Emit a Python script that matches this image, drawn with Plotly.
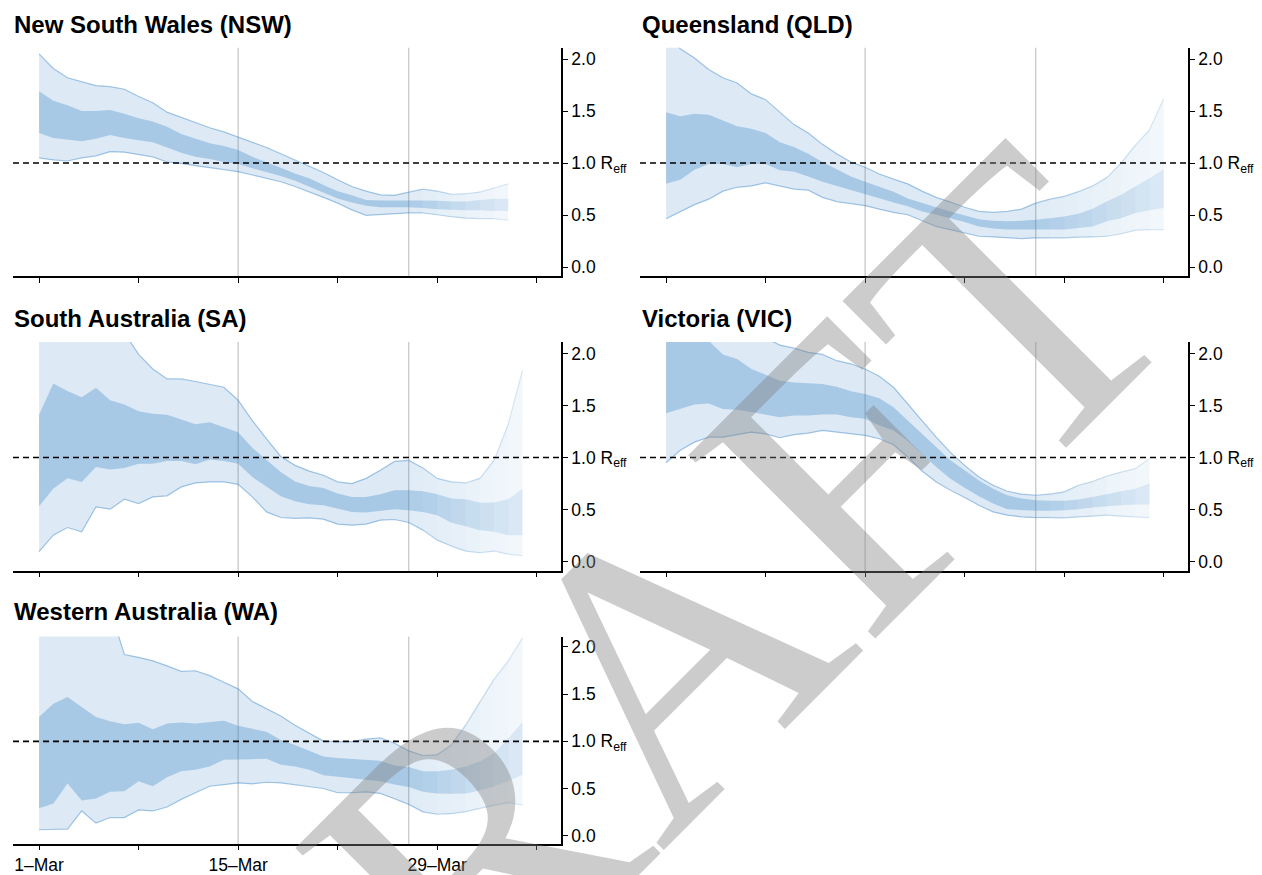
import plotly.graph_objects as go
import pandas as pd

W, H = 1262, 875
START = "2020-03-01"
FADE_FROM = "2020-03-27"

titles = ["New South Wales (NSW)", "Queensland (QLD)", "South Australia (SA)",
          "Victoria (VIC)", "Western Australia (WA)"]

# ---- data (daily, from 1-Mar) : upper 95%, upper 50%, lower 50%, lower 95% ----
nsw_up95 = [2.05, 1.91, 1.82, 1.78, 1.745, 1.735, 1.71, 1.64, 1.58, 1.49, 1.44, 1.39, 1.34, 1.30, 1.25, 1.20, 1.15,
            1.09, 1.03, 0.965, 0.91, 0.84, 0.775, 0.73, 0.695, 0.69, 0.72, 0.75, 0.73, 0.70, 0.705, 0.72, 0.76, 0.80]
nsw_up50 = [1.69, 1.60, 1.555, 1.50, 1.50, 1.51, 1.475, 1.43, 1.40, 1.35, 1.28, 1.235, 1.19, 1.165, 1.125, 1.06, 1.01,
            0.955, 0.90, 0.855, 0.79, 0.73, 0.69, 0.645, 0.64, 0.64, 0.64, 0.64, 0.637, 0.63, 0.63, 0.645, 0.656, 0.656]
nsw_lo50 = [1.29, 1.24, 1.225, 1.21, 1.235, 1.27, 1.24, 1.22, 1.20, 1.15, 1.10, 1.06, 1.04, 1.01, 0.99, 0.95, 0.91,
            0.875, 0.83, 0.775, 0.715, 0.66, 0.62, 0.59, 0.575, 0.575, 0.575, 0.567, 0.557, 0.55, 0.545, 0.545, 0.54, 0.54]
nsw_lo95 = [1.05, 1.03, 1.02, 1.05, 1.07, 1.11, 1.105, 1.08, 1.06, 1.01, 0.997, 0.975, 0.955, 0.94, 0.917, 0.885, 0.855,
            0.82, 0.775, 0.725, 0.67, 0.615, 0.55, 0.497, 0.503, 0.513, 0.52, 0.52, 0.503, 0.484, 0.47, 0.465, 0.465, 0.45]

qld_up95 = [2.25, 2.10, 2.01, 1.90, 1.82, 1.77, 1.665, 1.61, 1.49, 1.37, 1.29, 1.18, 1.09, 1.01, 0.96, 0.895, 0.845, 0.80,
            0.73, 0.67, 0.625, 0.575, 0.535, 0.525, 0.535, 0.557, 0.615, 0.653, 0.68, 0.725, 0.78, 0.86, 1.0, 1.17, 1.32, 1.62]
qld_up50 = [1.49, 1.45, 1.475, 1.465, 1.41, 1.355, 1.33, 1.29, 1.20, 1.155, 1.09, 1.01, 0.94, 0.87, 0.82, 0.775, 0.725, 0.66,
            0.615, 0.575, 0.535, 0.495, 0.46, 0.445, 0.44, 0.445, 0.455, 0.47, 0.487, 0.513, 0.56, 0.63, 0.695, 0.775, 0.855, 0.94]
qld_lo50 = [0.80, 0.84, 0.935, 0.99, 0.99, 0.96, 0.99, 0.99, 0.93, 0.917, 0.87, 0.82, 0.78, 0.74, 0.695, 0.66, 0.62, 0.585,
            0.535, 0.503, 0.47, 0.433, 0.39, 0.37, 0.36, 0.36, 0.36, 0.36, 0.36, 0.375, 0.39, 0.44, 0.47, 0.52, 0.545, 0.567]
qld_lo95 = [0.465, 0.535, 0.60, 0.653, 0.73, 0.767, 0.78, 0.81, 0.78, 0.75, 0.74, 0.67, 0.63, 0.61, 0.59, 0.557, 0.525, 0.503,
            0.446, 0.39, 0.36, 0.33, 0.296, 0.29, 0.28, 0.274, 0.28, 0.28, 0.28, 0.287, 0.29, 0.296, 0.32, 0.353, 0.36, 0.36]

sa_up95 = [2.6, 2.55, 2.5, 2.45, 2.4, 2.3, 2.2, 1.99, 1.85, 1.755, 1.755, 1.73, 1.70, 1.675, 1.55, 1.355, 1.18, 1.01,
           0.925, 0.87, 0.83, 0.766, 0.75, 0.80, 0.877, 0.963, 0.973, 0.90, 0.80, 0.766, 0.756, 0.80, 0.973, 1.32, 1.84]
sa_up50 = [1.41, 1.71, 1.64, 1.58, 1.67, 1.55, 1.51, 1.445, 1.42, 1.41, 1.365, 1.32, 1.34, 1.29, 1.244, 1.094, 0.973, 0.86,
           0.77, 0.727, 0.708, 0.654, 0.622, 0.622, 0.647, 0.686, 0.686, 0.676, 0.647, 0.606, 0.60, 0.565, 0.568, 0.60, 0.70]
sa_lo50 = [0.533, 0.70, 0.80, 0.766, 0.91, 0.884, 0.90, 0.94, 0.94, 0.966, 0.966, 0.935, 0.98, 0.966, 0.94, 0.813, 0.718,
           0.628, 0.58, 0.552, 0.542, 0.51, 0.478, 0.472, 0.485, 0.504, 0.494, 0.478, 0.447, 0.373, 0.341, 0.303, 0.287,
           0.255, 0.255]
sa_lo95 = [0.096, 0.255, 0.328, 0.287, 0.526, 0.504, 0.60, 0.558, 0.622, 0.632, 0.718, 0.756, 0.766, 0.766, 0.743, 0.622,
           0.478, 0.424, 0.415, 0.421, 0.408, 0.36, 0.351, 0.36, 0.399, 0.405, 0.376, 0.303, 0.207, 0.15, 0.102, 0.086,
           0.102, 0.073, 0.057]

vic_up95 = [2.5, 2.45, 2.4, 2.35, 2.3, 2.25, 2.2, 2.15, 2.08, 2.05, 2.01, 1.99, 1.93, 1.90, 1.85, 1.78, 1.675, 1.52, 1.355,
            1.196, 1.05, 0.925, 0.813, 0.734, 0.676, 0.648, 0.638, 0.648, 0.67, 0.734, 0.77, 0.823, 0.86, 0.893, 0.99]
vic_up50 = [2.3, 2.25, 2.2, 2.12, 1.99, 1.946, 1.85, 1.796, 1.738, 1.72, 1.713, 1.706, 1.68, 1.636, 1.61, 1.57, 1.483,
            1.355, 1.228, 1.094, 0.973, 0.877, 0.78, 0.70, 0.638, 0.606, 0.59, 0.584, 0.584, 0.597, 0.622, 0.648, 0.676,
            0.70, 0.75]
vic_lo50 = [1.426, 1.467, 1.509, 1.52, 1.467, 1.46, 1.435, 1.413, 1.388, 1.404, 1.404, 1.413, 1.413, 1.388, 1.372, 1.308,
            1.26, 1.158, 1.037, 0.909, 0.797, 0.711, 0.628, 0.558, 0.504, 0.494, 0.488, 0.488, 0.494, 0.504, 0.52, 0.533,
            0.542, 0.549, 0.549]
vic_lo95 = [0.95, 1.07, 1.148, 1.196, 1.196, 1.22, 1.244, 1.228, 1.19, 1.22, 1.234, 1.26, 1.244, 1.228, 1.212, 1.18, 1.123,
            1.005, 0.87, 0.766, 0.686, 0.616, 0.542, 0.478, 0.447, 0.43, 0.424, 0.424, 0.421, 0.43, 0.437, 0.447, 0.437,
            0.43, 0.424]

wa_up95 = [2.7, 2.65, 2.6, 2.55, 2.5, 2.4, 1.92, 1.89, 1.853, 1.80, 1.741, 1.748, 1.696, 1.626, 1.556, 1.423, 1.346, 1.269,
           1.171, 1.091, 1.003, 0.997, 0.997, 1.024, 1.038, 0.979, 0.899, 0.85, 0.857, 0.962, 1.171, 1.416, 1.66, 1.853,
           2.098]
wa_up50 = [1.259, 1.399, 1.469, 1.364, 1.259, 1.213, 1.182, 1.196, 1.129, 1.189, 1.2, 1.189, 1.2, 1.217, 1.164, 1.129,
           1.101, 1.014, 0.962, 0.899, 0.839, 0.822, 0.811, 0.804, 0.794, 0.745, 0.727, 0.682, 0.682, 0.699, 0.734, 0.787,
           0.874, 1.031, 1.206]
wa_lo50 = [0.29, 0.339, 0.552, 0.374, 0.395, 0.465, 0.472, 0.577, 0.524, 0.619, 0.682, 0.699, 0.734, 0.804, 0.811, 0.811,
           0.815, 0.752, 0.734, 0.699, 0.64, 0.622, 0.612, 0.594, 0.577, 0.542, 0.517, 0.465, 0.448, 0.444, 0.448, 0.479,
           0.524, 0.577, 0.647]
wa_lo95 = [0.063, 0.07, 0.07, 0.262, 0.133, 0.192, 0.192, 0.273, 0.262, 0.304, 0.385, 0.455, 0.524, 0.542, 0.559, 0.549,
           0.566, 0.559, 0.542, 0.524, 0.50, 0.455, 0.455, 0.465, 0.448, 0.392, 0.332, 0.252, 0.227, 0.234, 0.255, 0.29,
           0.322, 0.35, 0.325]

series = [
    (nsw_up95, nsw_up50, nsw_lo50, nsw_lo95),
    (qld_up95, qld_up50, qld_lo50, qld_lo95),
    (sa_up95, sa_up50, sa_lo50, sa_lo95),
    (vic_up95, vic_up50, vic_lo50, vic_lo95),
    (wa_up95, wa_up50, wa_lo50, wa_lo95),
]

tick_dates = ["2020-03-01", "2020-03-08", "2020-03-15", "2020-03-22", "2020-03-29", "2020-04-05"]
tick_text = ["1\u2013Mar", "", "15\u2013Mar", "", "29\u2013Mar", ""]
y_ticks = [0.0, 0.5, 1.0, 1.5, 2.0]
y_text = ["0.0", "0.5", "1.0 R<sub>eff</sub>", "1.5", "2.0"]
vline_dates = ["2020-03-15", "2020-03-27"]
x_range = ["2020-02-28 04:00", "2020-04-06 17:00"]
y_range = [-0.09, 2.11]

# ---- layout geometry (pixels) ----
panels = [(13, 561, 48, 278.3), (640, 1188, 48, 278.3), (13, 561, 344.3, 575),
          (640, 1188, 344.3, 575), (13, 561, 641, 850)]
title_pos = [(12, 25), (640, 25), (12, 321), (640, 321), (12, 616)]

BASE = (45, 125, 195)
A95, A50, ALINE = 0.16, 0.30, 0.42
FONT = "Liberation Sans, Arial, Helvetica, sans-serif"


def rgba(a):
    return f"rgba({BASE[0]},{BASE[1]},{BASE[2]},{a:.3f})"


fig = go.Figure()
layout = dict(width=W, height=H, margin=dict(l=0, r=0, t=0, b=0), paper_bgcolor="white",
              plot_bgcolor="white", showlegend=False, font=dict(family=FONT, size=17.5, color="black"))
shapes = []
annotations = []

for k, (up95, up50, lo50, lo95) in enumerate(series):
    n = len(up95)
    dates = list(pd.date_range(START, periods=n).strftime("%Y-%m-%d"))
    sfx = "" if k == 0 else str(k + 1)
    xa, ya = "x" + sfx, "y" + sfx
    f0 = dates.index(FADE_FROM)
    m = n - 1 - f0
    fade = [1 - 0.6 * (j + 1) / m for j in range(m)]

    for up, lo, a in [(up95, lo95, A95), (up50, lo50, A50)]:
        xs = dates[:f0 + 1] + dates[:f0 + 1][::-1]
        ys = up[:f0 + 1] + lo[:f0 + 1][::-1]
        fig.add_trace(go.Scatter(x=xs, y=ys, fill="toself", fillcolor=rgba(a), mode="lines",
                                 line=dict(width=0), hoverinfo="skip", xaxis=xa, yaxis=ya))
        for j in range(m):
            i = f0 + j
            fig.add_trace(go.Scatter(x=[dates[i], dates[i + 1], dates[i + 1], dates[i]],
                                     y=[up[i], up[i + 1], lo[i + 1], lo[i]],
                                     fill="toself", fillcolor=rgba(a * fade[j]), mode="lines",
                                     line=dict(width=0), hoverinfo="skip", xaxis=xa, yaxis=ya))
    for b in (up95, lo95):
        fig.add_trace(go.Scatter(x=dates[:f0 + 1], y=b[:f0 + 1], mode="lines",
                                 line=dict(color=rgba(ALINE), width=1.2), hoverinfo="skip",
                                 xaxis=xa, yaxis=ya))
        for j in range(m):
            i = f0 + j
            fig.add_trace(go.Scatter(x=[dates[i], dates[i + 1]], y=[b[i], b[i + 1]], mode="lines",
                                     line=dict(color=rgba(ALINE * fade[j]), width=1.2), hoverinfo="skip",
                                     xaxis=xa, yaxis=ya))

    x0, x1, y0, y1 = panels[k]
    layout["xaxis" + sfx] = dict(
        domain=[x0 / W, x1 / W], anchor=ya, type="date", range=x_range,
        showline=True, linecolor="black", linewidth=1.6, ticks="outside", ticklen=4.5, tickwidth=1.3,
        tickcolor="black", tickvals=tick_dates, ticktext=tick_text, showticklabels=(k == 4),
        showgrid=False, zeroline=False, tickfont=dict(size=17.5))
    layout["yaxis" + sfx] = dict(
        domain=[1 - y1 / H, 1 - y0 / H], anchor=xa, side="right", range=y_range,
        showline=True, linecolor="black", linewidth=1.6, ticks="outside", ticklen=5, tickwidth=1.3,
        tickcolor="black", tickvals=y_ticks, ticktext=y_text, showgrid=False, zeroline=False,
        tickfont=dict(size=17.5))

    for vd in vline_dates:
        shapes.append(dict(type="line", xref=xa, yref=ya + " domain", x0=vd, x1=vd, y0=0, y1=1,
                           line=dict(color="rgb(200,200,200)", width=1.3), layer="below"))
    shapes.append(dict(type="line", xref=xa + " domain", yref=ya, x0=0, x1=1, y0=1.0, y1=1.0,
                       line=dict(color="black", width=1.6, dash="6px,4px"), layer="above"))

    tx, ty = title_pos[k]
    annotations.append(dict(text="<b>" + titles[k] + "</b>", xref="paper", yref="paper",
                            x=tx / W, y=1 - ty / H, xanchor="left", yanchor="middle", showarrow=False,
                            font=dict(family=FONT, size=24, color="black")))

# watermark
annotations.append(dict(text="DRAFT", xref="paper", yref="paper", x=636 / W, y=1 - 692 / H,
                        xanchor="center", yanchor="middle", showarrow=False, textangle=-45,
                        font=dict(family="Liberation Serif, DejaVu Serif, Times New Roman, serif",
                                  size=400, color="rgba(128,128,128,0.4)")))

layout["shapes"] = shapes
layout["annotations"] = annotations
fig.update_layout(**layout)

fig.write_html("out.html", config={"displayModeBar": False},
               post_script="document.body.style.margin='0';document.body.style.overflow='hidden';")
